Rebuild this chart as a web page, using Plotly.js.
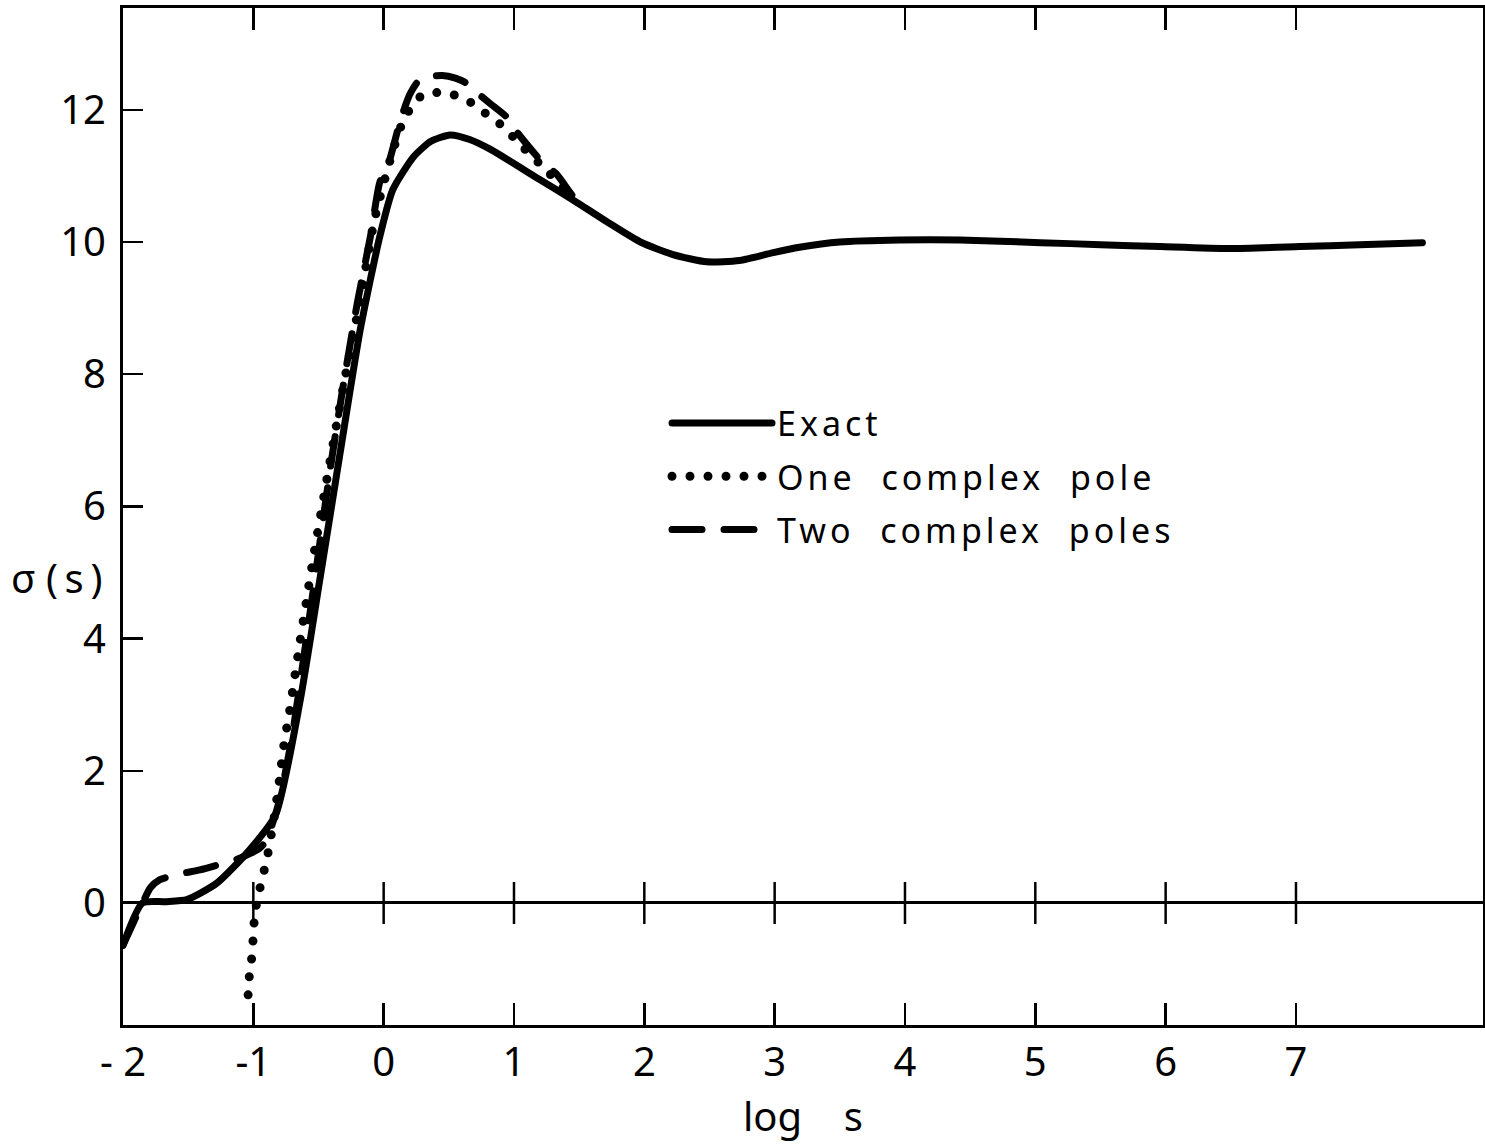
<!DOCTYPE html>
<html>
<head>
<meta charset="utf-8">
<script src="https://cdn.plot.ly/plotly-3.0.1.min.js"></script>
<style>
  html, body { margin: 0; padding: 0; background: #fff; }
  #chart { width: 1485px; height: 1144px; }
  .js-line { stroke-linecap: round; stroke-linejoin: round; }
  .legendtext { letter-spacing: 4px; }
</style>
</head>
<body>
<div id="chart"></div>
<script>
// Exact curve
const exactX = [-2, -1.85, -1.68, -1.51, -1.28, -1.03, -0.83, -0.64, -0.49, -0.33, -0.18, -0.03, 0.07, 0.23, 0.36, 0.51, 0.66, 0.82, 1.20, 1.45, 1.71, 1.97, 2.22, 2.48, 2.73, 2.99, 3.19, 3.50, 3.96, 4.42, 5.04, 5.50, 5.96, 6.49, 7.03, 7.49, 7.97];
const exactY = [-0.64, 0, 0.02, 0.05, 0.30, 0.80, 1.33, 3.07, 4.89, 6.86, 8.67, 10.08, 10.79, 11.29, 11.52, 11.62, 11.55, 11.40, 10.94, 10.64, 10.31, 10.00, 9.81, 9.70, 9.72, 9.84, 9.92, 10.00, 10.03, 10.03, 9.99, 9.96, 9.93, 9.90, 9.93, 9.96, 9.99];

// One complex pole
const onePoleX = [-1.04, -1.03, -1.01, -1.00, -0.99, -0.97, -0.93, -0.89, -0.84, -0.80, -0.76, -0.73, -0.64, -0.53, -0.41, -0.30, -0.18, -0.07, 0.05, 0.16, 0.30, 0.41, 0.53, 0.64, 0.72, 0.83, 0.92, 1.05, 1.24, 1.40];
const onePoleY = [-1.39, -1.09, -0.79, -0.48, -0.20, 0.05, 0.38, 0.73, 1.30, 1.86, 2.47, 2.80, 3.98, 5.34, 6.70, 7.91, 9.13, 10.34, 11.24, 11.88, 12.23, 12.26, 12.23, 12.15, 12.03, 11.88, 11.74, 11.47, 11.10, 10.78];

// Two complex poles
const twoPoleX = [-2, -1.85, -1.79, -1.72, -1.54, -1.41, -1.10, -0.95, -0.90, -0.80, -0.70, -0.60, -0.50, -0.40, -0.30, -0.20, -0.10, -0.03, 0.03, 0.13, 0.20, 0.26, 0.35, 0.45, 0.55, 0.62, 0.69, 0.82, 0.95, 1.02, 1.22, 1.33, 1.45, 1.55];
const twoPoleY = [-0.64, 0, 0.23, 0.35, 0.45, 0.50, 0.68, 0.83, 0.95, 1.55, 2.55, 3.90, 5.30, 6.70, 7.95, 9.10, 10.10, 10.90, 11.14, 11.85, 12.23, 12.42, 12.50, 12.52, 12.48, 12.42, 12.30, 12.09, 11.88, 11.67, 11.20, 11.02, 10.70, 10.54];

// Axis ticks
const xTickVals = [-2, -1, 0, 1, 2, 3, 4, 5, 6, 7];
const xTickText = ['- 2', '-1', '0', '1', '2', '3', '4', '5', '6', '7'];
const yTickVals = [0, 2, 4, 6, 8, 10, 12];
const yTickText = ['0', '2', '4', '6', '8', '10', '12'];
const zeroTickX = [-1, 0, 1, 2, 3, 4, 5, 6, 7];
const zeroTickY = [0, 0, 0, 0, 0, 0, 0, 0, 0];

const seriesNames = ['Exact', 'One  complex  pole', 'Two  complex  poles'];

const FONT = 'Noto Sans, DejaVu Sans, sans-serif';

const traces = [
  {
    x: exactX, y: exactY, name: seriesNames[0], mode: 'lines', legendgroup: 'a',
    line: { color: '#000', width: 7, shape: 'spline', smoothing: 0.6 },
    hoverinfo: 'skip'
  },
  {
    x: onePoleX, y: onePoleY, name: seriesNames[1], mode: 'lines', legendgroup: 'b',
    line: { color: '#000', width: 9, dash: '0px,18px', shape: 'spline', smoothing: 0.6 },
    hoverinfo: 'skip'
  },
  {
    x: twoPoleX, y: twoPoleY, name: seriesNames[2], mode: 'lines', legendgroup: 'c',
    line: { color: '#000', width: 7, dash: '30px,22px', shape: 'spline', smoothing: 0.6 },
    hoverinfo: 'skip'
  },
  {
    x: zeroTickX, y: zeroTickY, mode: 'markers', showlegend: false,
    marker: { symbol: 'line-ns-open', size: 30, color: '#000', line: { width: 2.5, color: '#000' } },
    hoverinfo: 'skip'
  }
];

const layout = {
  width: 1485, height: 1144,
  paper_bgcolor: '#fff', plot_bgcolor: '#fff',
  margin: { l: 123, r: 2, t: 8, b: 119 },
  font: { family: FONT, color: '#000', size: 40 },
  showlegend: true,
  legend: {
    x: 0.40, y: 0.62, xanchor: 'left', yanchor: 'top',
    bgcolor: 'rgba(0,0,0,0)', borderwidth: 0,
    font: { family: FONT, size: 34, color: '#000' },
    itemwidth: 100, tracegroupgap: 6
  },
  xaxis: {
    range: [-2, 8.435], showgrid: false, zeroline: false,
    tickmode: 'array', tickvals: xTickVals, ticktext: xTickText,
    ticks: 'inside', ticklen: 22, tickwidth: 2.5, tickcolor: '#000',
    showline: true, linewidth: 3, linecolor: '#000', mirror: 'ticks',
    tickfont: { family: FONT, size: 40, color: '#000' },
    title: { text: 'log\u00a0\u00a0\u00a0\u00a0s', font: { family: FONT, size: 40, color: '#000' }, standoff: 14 }
  },
  yaxis: {
    range: [-1.846, 13.54], showgrid: false,
    zeroline: true, zerolinecolor: '#000', zerolinewidth: 3,
    tickmode: 'array', tickvals: yTickVals, ticktext: yTickText,
    ticks: 'inside', ticklen: 20, tickwidth: 2.5, tickcolor: '#000',
    showline: true, linewidth: 3, linecolor: '#000', mirror: true,
    tickfont: { family: FONT, size: 40, color: '#000' },
    ticklabelstandoff: 6
  },
  annotations: [
    {
      text: '\u03c3 (\u2009s\u2009)', xref: 'paper', yref: 'y', x: -0.014, y: 4.92,
      xanchor: 'right', yanchor: 'middle', showarrow: false,
      font: { family: FONT, size: 40, color: '#000' }
    }
  ]
};

Plotly.newPlot('chart', traces, layout, { displayModeBar: false, staticPlot: true });
</script>
</body>
</html>
